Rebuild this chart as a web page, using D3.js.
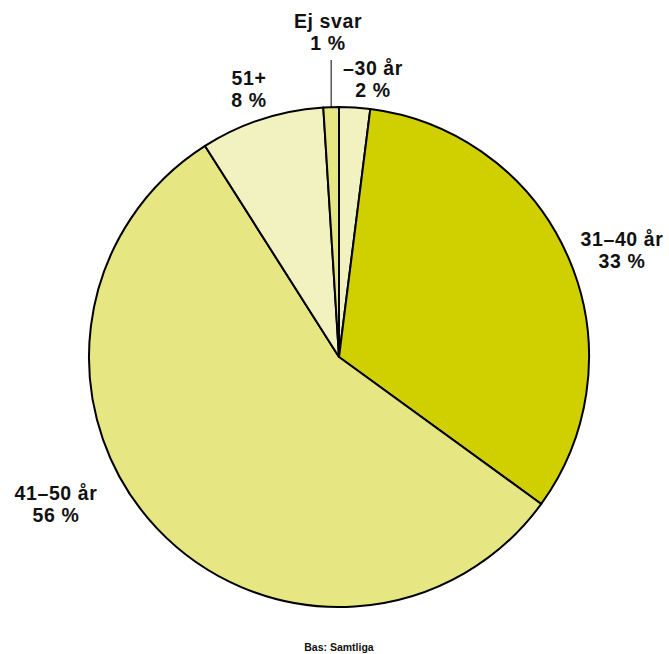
<!DOCTYPE html>
<html><head><meta charset="utf-8">
<script src="https://cdn.jsdelivr.net/npm/d3@7"></script>
<style>body{margin:0;background:#fff}</style>
</head><body>
<svg id="c" width="669" height="654"></svg>
<script>
const categories = ["–30 år", "31–40 år", "41–50 år", "51+", "Ej svar"];
const values = [2, 33, 56, 8, 1];
const valueLabels = ["2 %", "33 %", "56 %", "8 %", "1 %"];
const colors = ["#f2f2c1", "#d0d000", "#e6e683", "#f2f2c1", "#e6e683"];

const svg = d3.select("#c");
const cx = 339, cy = 357, R = 250;
const g = svg.append("g").attr("transform", `translate(${cx},${cy})`);
const pie = d3.pie().sort(null).value(d => d)(values);
const arc = d3.arc().innerRadius(0).outerRadius(R);
g.selectAll("path").data(pie).join("path")
  .attr("d", arc).attr("fill", (d,i) => colors[i])
  .attr("stroke", "#000").attr("stroke-width", 2).attr("stroke-linejoin", "round");

// label positions (offsets relative to outside of arc)
const labelPos = [
  {x: 373, y: 75}, {x: 622, y: 246}, {x: 56, y: 500}, {x: 249, y: 85}, {x: 328, y: 28}
];
const font = "'Liberation Sans', Arial, sans-serif";
categories.forEach((c, i) => {
  const t = svg.append("text").attr("text-anchor", "middle")
    .attr("font-family", font).attr("font-weight", "bold").attr("font-size", 19.5)
    .attr("letter-spacing", 0.6).attr("fill", "#111");
  t.append("tspan").attr("x", labelPos[i].x).attr("y", labelPos[i].y).text(c);
  t.append("tspan").attr("x", labelPos[i].x).attr("y", labelPos[i].y + 22).text(valueLabels[i]);
});
// leader line for Ej svar
const ej = pie[4];
const mid = (ej.startAngle + ej.endAngle) / 2;
const lx = cx + R * Math.sin(mid);
svg.append("line").attr("x1", lx).attr("x2", lx).attr("y1", 60).attr("y2", cy - R * Math.cos(mid))
  .attr("stroke", "#000").attr("stroke-width", 1);

svg.append("text").attr("x", 339).attr("y", 651).attr("text-anchor", "middle")
  .attr("font-family", font).attr("font-weight", "bold").attr("font-size", 10.5)
  .attr("fill", "#111").text("Bas: Samtliga");
</script>
</body></html>
